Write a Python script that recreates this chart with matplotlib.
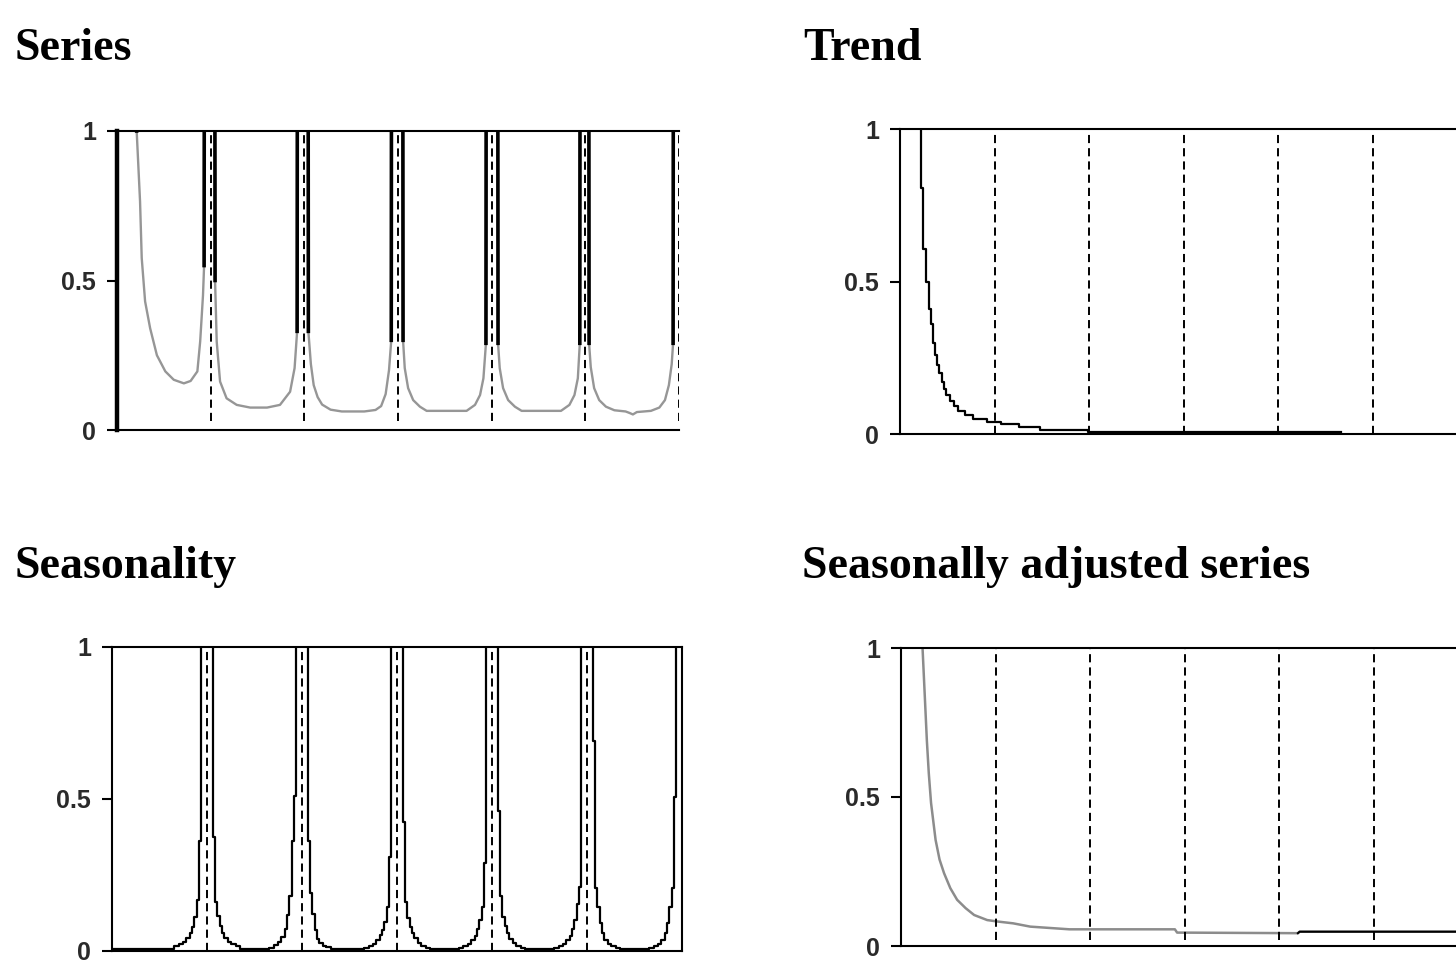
import numpy as np
import matplotlib
matplotlib.use('Agg')
import matplotlib.pyplot as plt

# frequencies are expressed as a fraction of pi (0 .. 1)
seasonal_freqs = [1/6, 1/3, 1/2, 2/3, 5/6, 1.0]
titles = ['Series', 'Trend', 'Seasonality', 'Seasonally adjusted series']
ytick_vals = [0, 0.5, 1]
ytick_labels = ['0', '0.5', '1']

# spectrum of the series (values above 1 are off the chart)
series_x = [0.000, 0.034, 0.035, 0.041, 0.044, 0.050, 0.059, 0.071, 0.086, 0.101,
            0.119, 0.131, 0.143, 0.148, 0.153, 0.155, 0.1555, 0.1740, 0.1745, 0.1774,
            0.1834, 0.195, 0.213, 0.237, 0.267, 0.290, 0.308, 0.316, 0.3205, 0.321,
            0.340, 0.3405, 0.345, 0.350, 0.357, 0.365, 0.380, 0.400, 0.440, 0.460,
            0.470, 0.478, 0.484, 0.488, 0.4885, 0.5085, 0.509, 0.512, 0.518, 0.527,
            0.539, 0.551, 0.622, 0.637, 0.646, 0.652, 0.6565, 0.657, 0.6775, 0.678,
            0.681, 0.687, 0.696, 0.708, 0.720, 0.790, 0.805, 0.814, 0.820, 0.8235,
            0.824, 0.8395, 0.840, 0.843, 0.849, 0.858, 0.870, 0.885, 0.905, 0.912,
            0.918, 0.925, 0.950, 0.965, 0.975, 0.982, 0.987, 0.9895, 0.990, 1.000]
series_y = [1.5, 1.5, 1.0, 0.765, 0.575, 0.43, 0.34, 0.25, 0.196, 0.168,
            0.156, 0.164, 0.196, 0.296, 0.45, 0.55, 1.5, 1.5, 0.50, 0.296,
            0.162, 0.106, 0.084, 0.075, 0.075, 0.084, 0.128, 0.207, 0.33, 1.5,
            1.5, 0.33, 0.22, 0.15, 0.11, 0.085, 0.068, 0.062, 0.062, 0.067,
            0.08, 0.12, 0.20, 0.30, 1.5, 1.5, 0.30, 0.207, 0.14, 0.10,
            0.078, 0.064, 0.064, 0.084, 0.117, 0.173, 0.29, 1.5, 1.5, 0.29,
            0.207, 0.14, 0.10, 0.078, 0.064, 0.064, 0.084, 0.117, 0.173, 0.29,
            1.5, 1.5, 0.29, 0.21, 0.14, 0.10, 0.078, 0.066, 0.062, 0.057,
            0.052, 0.060, 0.064, 0.075, 0.10, 0.15, 0.22, 0.29, 1.5, 1.5]

# trend spectrum (staircase)
trend_x = [0.0, 0.037, 0.041, 0.045, 0.051, 0.054, 0.058, 0.062, 0.066, 0.069, 0.074, 0.078,
           0.082, 0.088, 0.095, 0.103, 0.115, 0.129, 0.153, 0.179, 0.209, 0.247, 0.331, 0.777]
trend_y = [1.5, 0.806, 0.605, 0.50, 0.41, 0.36, 0.30, 0.258, 0.225, 0.20, 0.17, 0.147,
           0.127, 0.109, 0.093, 0.076, 0.062, 0.049, 0.040, 0.033, 0.022, 0.014, 0.006, 0.006]

# seasonality spectrum: step edges around each seasonal frequency, levels inner -> outer
seas_edges = [0.0097, 0.014, 0.018, 0.022, 0.026, 0.030, 0.036, 0.042, 0.050, 0.058]
seas_left = [
    [0.36, 0.167, 0.112, 0.079, 0.057, 0.041, 0.030, 0.022, 0.015],
    [0.51, 0.36, 0.18, 0.117, 0.073, 0.046, 0.030, 0.019, 0.008],
    [0.31, 0.145, 0.095, 0.068, 0.052, 0.036, 0.022, 0.015, 0.008],
    [0.29, 0.145, 0.10, 0.070, 0.050, 0.036, 0.022, 0.015, 0.008],
    [0.21, 0.155, 0.10, 0.070, 0.050, 0.035, 0.022, 0.015, 0.008],
    [0.507, 0.205, 0.145, 0.090, 0.057, 0.035, 0.022, 0.015, 0.008],
]
seas_right = [
    [0.375, 0.16, 0.115, 0.080, 0.057, 0.041, 0.030, 0.022, 0.015],
    [0.36, 0.19, 0.12, 0.068, 0.040, 0.024, 0.015, 0.011, 0.006],
    [0.425, 0.161, 0.107, 0.079, 0.057, 0.041, 0.025, 0.015, 0.008],
    [0.46, 0.18, 0.11, 0.080, 0.057, 0.040, 0.025, 0.015, 0.008],
    [0.69, 0.205, 0.145, 0.090, 0.057, 0.035, 0.022, 0.015, 0.008],
    [],
]
seas_floor = 0.004

# seasonally adjusted series spectrum
sa_x = [0.0, 0.036, 0.038, 0.0456, 0.049, 0.053, 0.061, 0.068, 0.076, 0.087, 0.099,
        0.114, 0.129, 0.152, 0.171, 0.198, 0.228, 0.297, 0.483, 0.487, 0.700, 0.703, 1.0]
sa_y = [1.5, 1.5, 1.0, 0.69, 0.58, 0.48, 0.356, 0.29, 0.244, 0.194, 0.155,
        0.127, 0.104, 0.087, 0.082, 0.076, 0.065, 0.056, 0.056, 0.045, 0.043, 0.048, 0.048]
sa_black_from = 0.70

title_font = dict(family='Liberation Serif', weight='bold', size=33)
tick_font = dict(family='Liberation Sans', weight='bold', size=18)


def setup(ax, right_spine=False):
    ax.set_xlim(0, 1)
    ax.set_ylim(0, 1)
    for s in ['top', 'bottom', 'left', 'right']:
        ax.spines[s].set_linewidth(1.5)
    ax.spines['right'].set_visible(right_spine)
    ax.set_xticks([])
    ax.set_yticks(ytick_vals)
    ax.set_yticklabels(ytick_labels, fontdict=tick_font, color='#2a2a2a')
    ax.tick_params(axis='y', direction='out', length=7, width=1.5, pad=8)


def dashed(ax, ymin=0.0):
    for f in seasonal_freqs:
        ax.axvline(f, ymin=ymin, ymax=1, color='black', lw=1.4,
                   ls=(0, (4.2, 2.6)), zorder=3)


fig = plt.figure(figsize=(14.56, 9.6), dpi=100)

# Series
ax1 = fig.add_axes([117/1456, 1 - 430/960, 562/1456, 299/960])
setup(ax1)
ax1.spines['left'].set_linewidth(3.2)
sy = np.array(series_y)
big = sy > 1
near = big | np.roll(big, 1) | np.roll(big, -1)
ax1.plot(series_x, series_y, color='#969696', lw=1.7, zorder=2)
ax1.plot(series_x, np.where(near, sy, np.nan), color='black', lw=2.6, zorder=2)
dashed(ax1, ymin=0.03)

# Trend
ax2 = fig.add_axes([900/1456, 1 - 434/960, 567/1456, 305/960])
setup(ax2)
ax2.plot(trend_x, trend_y, color='black', lw=1.6, drawstyle='steps-post', zorder=2)
dashed(ax2)

# Seasonality
seas_x = [0.0]
seas_y = [seas_floor]
for c, L, R in zip(seasonal_freqs, seas_left, seas_right):
    for j in range(len(L) - 1, -1, -1):
        seas_x.append(c - seas_edges[j + 1])
        seas_y.append(L[j])
    seas_x.append(c - seas_edges[0])
    seas_y.append(1.5)
    if R:
        for j in range(len(R)):
            seas_x.append(c + seas_edges[j])
            seas_y.append(R[j])
        seas_x.append(c + seas_edges[-1])
        seas_y.append(seas_floor)
seas_x.append(1.0)
seas_y.append(1.5)

ax3 = fig.add_axes([112/1456, 1 - 950.7/960, 570/1456, 303.7/960])
setup(ax3, right_spine=True)
ax3.plot(seas_x, seas_y, color='black', lw=1.6, drawstyle='steps-post', zorder=2)
dashed(ax3)

# Seasonally adjusted series
ax4 = fig.add_axes([901/1456, 1 - 946/960, 567/1456, 298/960])
setup(ax4)
sx = np.array(sa_x)
say = np.array(sa_y)
ax4.plot(sx, say, color='#8c8c8c', lw=1.8, zorder=2)
ax4.plot(sx[sx >= sa_black_from], say[sx >= sa_black_from], color='black', lw=1.5, zorder=2)
dashed(ax4, ymin=0.02)

# panel titles
fig.text(15/1456, 1 - 60/960, titles[0], va='baseline', ha='left', **title_font)
fig.text(803/1456, 1 - 60/960, titles[1], va='baseline', ha='left', **title_font)
fig.text(15/1456, 1 - 578/960, titles[2], va='baseline', ha='left', **title_font)
fig.text(802/1456, 1 - 578/960, titles[3], va='baseline', ha='left', **title_font)

fig.savefig('out.png', dpi=100)
plt.close(fig)
